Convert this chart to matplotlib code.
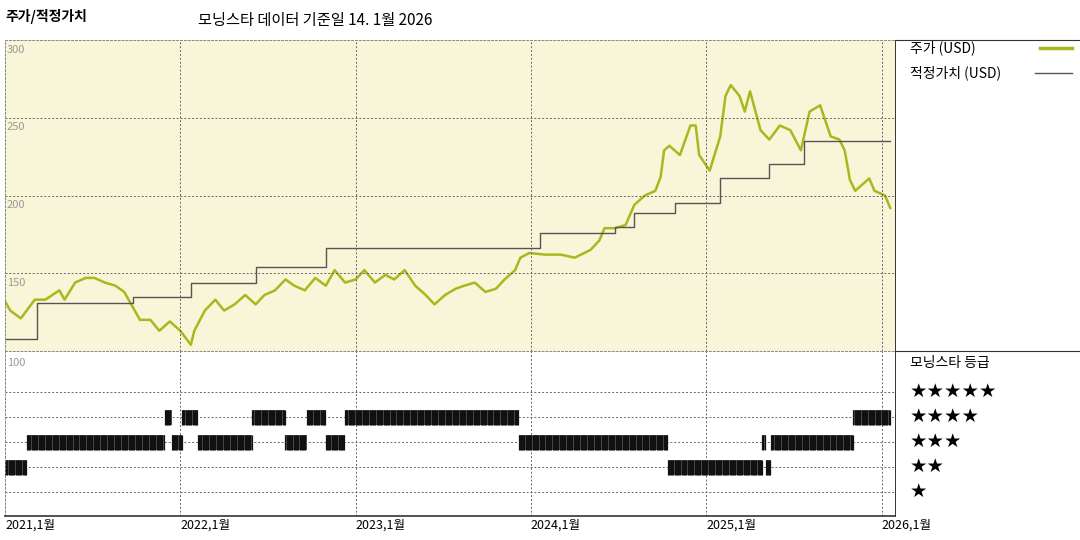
import matplotlib
matplotlib.use("Agg")
import matplotlib.pyplot as plt
import numpy as np
from matplotlib.lines import Line2D

plt.rcParams['font.family'] = ['Noto Sans CJK KR', 'DejaVu Sans']

# price (years since 2021-01) and USD values
price_t = [0.00,0.03,0.09,0.17,0.23,0.31,0.34,0.40,0.46,0.51,0.57,0.63,0.68,0.74,0.77,0.83,0.88,0.94,1.00,1.06,1.08,1.14,1.20,1.25,1.31,1.37,1.43,1.48,1.54,1.60,1.65,1.71,1.77,1.83,1.88,1.94,2.00,2.05,2.11,2.17,2.22,2.28,2.34,2.40,2.45,2.51,2.57,2.62,2.68,2.74,2.80,2.85,2.91,2.94,2.99,3.08,3.17,3.25,3.34,3.39,3.42,3.48,3.54,3.59,3.65,3.71,3.74,3.76,3.79,3.85,3.91,3.94,3.96,4.02,4.08,4.11,4.14,4.19,4.22,4.25,4.31,4.36,4.42,4.48,4.54,4.59,4.65,4.71,4.76,4.79,4.82,4.85,4.88,4.93,4.96,5.02,5.05]
price_v = [132,126,121,133,133,139,133,144,147,147,144,142,138,126,120,120,113,119,113,104,113,126,133,126,130,136,130,136,139,146,142,139,147,142,152,144,146,152,144,149,146,152,142,136,130,136,140,142,144,138,140,146,152,160,163,162,162,160,165,171,179,179,181,194,200,203,212,229,232,226,245,245,226,216,238,264,271,264,254,267,242,236,245,242,229,254,258,238,236,229,210,203,206,211,203,200,192]

# fair value steps
fv_t = [0.00,0.18,0.73,1.06,1.43,1.83,3.05,3.48,3.59,3.82,4.08,4.36,4.56,5.05]
fv_v = [108,131,135,144,154,166,176,180,189,195,211,220,235,235]

# morningstar rating segments
rt_start = [0.00,0.125,0.91,0.95,1.01,1.10,1.41,1.60,1.72,1.83,1.94,2.93,3.78,4.32,4.34,4.37,4.84]
rt_end   = [0.125,0.91,0.95,1.01,1.10,1.41,1.60,1.72,1.83,1.94,2.93,3.78,4.32,4.34,4.37,4.84,5.05]
rt_star  = [2,3,4,3,4,3,4,3,4,3,4,3,2,3,2,3,4]

year_ticks = [0,1,2,3,4,5]
year_labels = ['2021,1월','2022,1월','2023,1월','2024,1월','2025,1월','2026,1월']

fig = plt.figure(figsize=(10.8,5.4), dpi=100)
W, H = 1080, 540
x0, x1 = 5, 895
ax = fig.add_axes([x0/W, 1-351/H, (x1-x0)/W, (351-40)/H])
ax2 = fig.add_axes([x0/W, 1-516/H, (x1-x0)/W, (516-351)/H])
xmin, xmax = 0, (x1-x0)/175.3

ax.set_facecolor('#f8f5d8')
ax.plot(price_t, price_v, color='#a8b81e', lw=1.8)
ax.step(fv_t, fv_v, where='post', color='#555555', lw=1)
ax.set_xlim(xmin, xmax); ax.set_ylim(100, 300)
for v in [150, 200, 250]:
    ax.axhline(v, color='#666', ls=(0,(2,2)), lw=0.7)
for t in year_ticks:
    ax.axvline(t, color='#666', ls=(0,(2,2)), lw=0.7)
ax.set_xticks([]); ax.set_yticks([])
for s in ax.spines.values():
    s.set_color('#888'); s.set_linestyle((0,(2,2))); s.set_linewidth(0.7)
ax.spines['right'].set_linestyle('-'); ax.spines['right'].set_color('#333')
for v in [300, 250, 200, 150]:
    ax.text(0.01, v-3, str(v), fontsize=8, color='#999', va='top')

ax2.set_xlim(xmin, xmax); ax2.set_ylim(0, 6.6)
for r in [1,2,3,4,5]:
    ax2.axhline(r-0.04, color='#666', ls=(0,(2,2)), lw=0.7)
for t in year_ticks:
    ax2.axvline(t, color='#666', ls=(0,(2,2)), lw=0.7)
for s0, s1, st in zip(rt_start, rt_end, rt_star):
    ax2.fill_between([s0, s1], st-0.34, st+0.26, color='#555', lw=0)
    xs = np.arange(s0, s1, 1/150)
    ax2.vlines(xs, st-0.34, st+0.26, color='#111', lw=0.9)
ax2.text(0.01, 6.1, '100', fontsize=8, color='#999', va='center')
ax2.set_xticks(year_ticks)
ax2.set_xticklabels(year_labels, fontsize=9, ha='left')
ax2.tick_params(axis='x', length=0, pad=2)
ax2.set_yticks([])
for k in ['top','right','left']:
    ax2.spines[k].set_color('#888'); ax2.spines[k].set_linestyle((0,(2,2))); ax2.spines[k].set_linewidth(0.7)
ax2.spines['right'].set_linestyle('-'); ax2.spines['right'].set_color('#333')
ax2.spines['bottom'].set_color('#333'); ax2.spines['bottom'].set_linewidth(1.2)

# right panel frame
fig.add_artist(Line2D([x1/W, 1], [1-351/H]*2, color='#333', lw=0.8))
fig.add_artist(Line2D([x1/W, 1], [1-40/H]*2, color='#333', lw=0.8))

fig.text(5/W, 1-17/H, '주가/적정가치', fontsize=10, fontweight='bold', va='center')
fig.text(198/W, 1-20/H, '모닝스타 데이터 기준일 14. 1월 2026', fontsize=11, va='center')
fig.text(910/W, 1-48/H, '주가 (USD)', fontsize=10, va='center')
fig.add_artist(Line2D([1040/W, 1072/W], [1-48/H]*2, color='#a8b81e', lw=2.5))
fig.text(910/W, 1-73/H, '적정가치 (USD)', fontsize=10, va='center')
fig.add_artist(Line2D([1035/W, 1072/W], [1-73/H]*2, color='#555', lw=1))
fig.text(910/W, 1-363/H, '모닝스타 등급', fontsize=10, va='center')
for i, n in enumerate([5,4,3,2,1]):
    fig.text(910/W, 1-(391+25*i)/H, '★'*n, fontsize=14, va='center', color='black', family=['DejaVu Sans'])

fig.savefig('out.png', dpi=100)
